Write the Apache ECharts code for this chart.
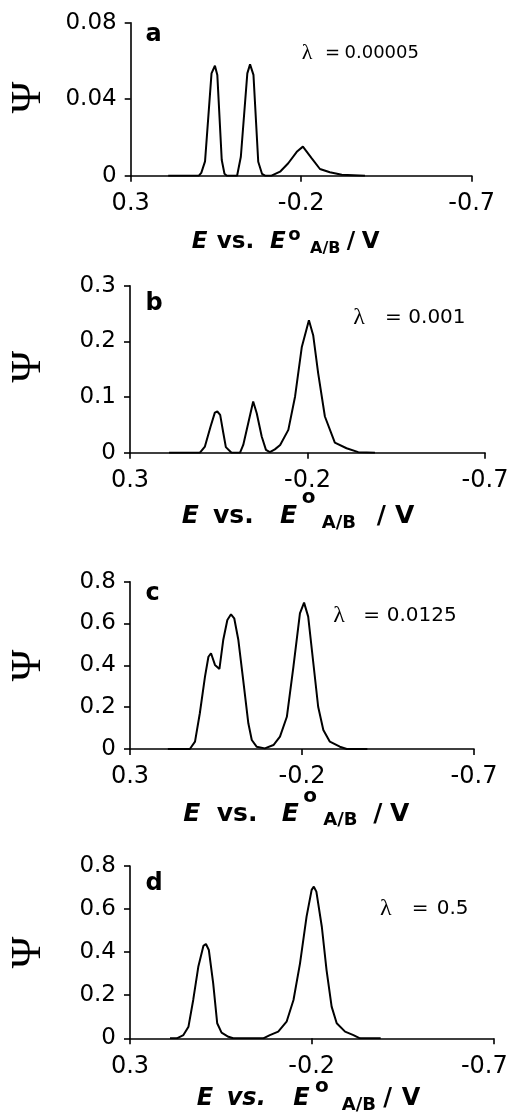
<!DOCTYPE html>
<html>
<head>
<meta charset="utf-8">
<script src="https://cdn.jsdelivr.net/npm/echarts@6/dist/echarts.min.js"></script>
<style>
html, body { margin: 0; padding: 0; background: #fff; }
#chart { width: 508px; height: 1112px; }
</style>
</head>
<body>
<div id="chart"></div>
<script>
var chart = echarts.init(document.getElementById('chart'));

// E vs. E°A/B (V) and Psi, one pair of arrays per panel
var aE   = [0.19, 0.10, 0.093, 0.082, 0.063, 0.053, 0.046, 0.033, 0.025, 0.018, -0.012, -0.023, -0.042, -0.050, -0.060, -0.074, -0.085, -0.094, -0.113, -0.138, -0.162, -0.187, -0.205, -0.231, -0.255, -0.284, -0.319, -0.387];
var aPsi = [0, 0, 0.0015, 0.0075, 0.0535, 0.0575, 0.0527, 0.0082, 0.001, 0, 0, 0.0099, 0.0535, 0.0582, 0.0527, 0.0073, 0.001, 0, 0, 0.0021, 0.0065, 0.0125, 0.0152, 0.0091, 0.0035, 0.0018, 0.0005, 0];

var bE   = [0.19, 0.103, 0.089, 0.073, 0.061, 0.054, 0.046, 0.037, 0.030, 0.014, -0.010, -0.019, -0.033, -0.047, -0.057, -0.071, -0.083, -0.094, -0.108, -0.123, -0.146, -0.165, -0.184, -0.204, -0.216, -0.230, -0.249, -0.277, -0.310, -0.343, -0.39];
var bPsi = [0, 0, 0.011, 0.047, 0.072, 0.074, 0.068, 0.035, 0.010, 0, 0, 0.014, 0.053, 0.092, 0.071, 0.029, 0.005, 0.001, 0.006, 0.014, 0.041, 0.101, 0.190, 0.238, 0.211, 0.143, 0.065, 0.018, 0.008, 0.001, 0];

var cE   = [0.19, 0.126, 0.111, 0.097, 0.082, 0.072, 0.0645, 0.053, 0.040, 0.029, 0.017, 0.0064, -0.003, -0.015, -0.029, -0.044, -0.054, -0.068, -0.092, -0.117, -0.136, -0.156, -0.175, -0.194, -0.206, -0.218, -0.233, -0.247, -0.262, -0.281, -0.31, -0.33, -0.39];
var cPsi = [0, 0, 0.035, 0.171, 0.346, 0.441, 0.458, 0.402, 0.383, 0.521, 0.617, 0.644, 0.625, 0.521, 0.330, 0.123, 0.043, 0.011, 0.003, 0.019, 0.059, 0.154, 0.393, 0.649, 0.700, 0.633, 0.410, 0.202, 0.091, 0.035, 0.011, 0, 0];

var dE   = [0.19, 0.171, 0.153, 0.139, 0.126, 0.112, 0.098, 0.091, 0.083, 0.071, 0.060, 0.048, 0.029, 0.016, -0.067, -0.085, -0.108, -0.131, -0.150, -0.168, -0.186, -0.200, -0.206, -0.213, -0.228, -0.241, -0.255, -0.269, -0.292, -0.315, -0.333, -0.39];
var dPsi = [0, 0, 0.015, 0.054, 0.178, 0.332, 0.429, 0.438, 0.410, 0.255, 0.070, 0.026, 0.007, 0, 0, 0.015, 0.031, 0.077, 0.178, 0.348, 0.565, 0.689, 0.704, 0.681, 0.518, 0.317, 0.147, 0.070, 0.031, 0.015, 0, 0];

var panelNames = ['a', 'b', 'c', 'd'];
var lambdaText = ['0.00005', '0.001', '0.0125', '0.5'];
var yMax  = [0.08, 0.3, 0.8, 0.8];
var yStep = [0.04, 0.1, 0.2, 0.2];
var xMin = -0.7, xMax = 0.3, xStep = 0.5;   // ticks: -0.7, -0.2, 0.3

var allE   = [aE, bE, cE, dE];
var allPsi = [aPsi, bPsi, cPsi, dPsi];

var grids = [
	{ left: 130.7, top: 22.7, width: 341, height: 153 },
	{ left: 130, top: 285.7, width: 355, height: 167 },
	{ left: 130, top: 581.7, width: 344, height: 167.3 },
	{ left: 130, top: 866, width: 363.3, height: 172.3 }
];
var lastLabelShift = [0, 0, 0, 18];   // -0.7 label of panel d sits left of its tick
var letterPos = [[145.5, 35], [145.5, 303.4], [145.5, 593.4], [145.5, 883.4]];
// lambda label: start of λ, "=", number; centre y; font size
var lambdaPos = [[301.7, 325, 344.5, 53.3, 18], [353.3, 385, 408.3, 317.5, 20], [333.3, 363.3, 386.7, 615.8, 20], [380, 411.7, 436.7, 909.2, 20]];
var psiPos = [[29, 97.5], [29, 366.7], [29, 665.5], [29, 952.5]];
// x title: token start x, font sizes [main, sup, sub], baselines [main, sup, sub]
var titleStarts = [
	[191.7, 216.7, 270, 288.3, 310, 346.7, 361.7],
	[181.7, 213, 280, 301.7, 321.7, 376.7, 395],
	[183.3, 216.7, 281.7, 303.3, 323.3, 373.3, 390],
	[196.7, 226.7, 293.3, 315, 341.7, 383.3, 401.7]
];
var titleFont = [[23, 18, 16], [25, 20, 18], [25, 20, 18], [24, 20, 18]];
var titleBase = [[249.7, 241.3, 254.7], [525, 505, 530], [823.3, 803.3, 826.7], [1107.3, 1093.3, 1111.7]];

var font = 'DejaVu Sans';

function pairs(xs, ys) {
	var out = [];
	for (var i = 0; i < xs.length; i++) {
		out.push([xs[i], ys[i]]);
	}
	return out;
}

function xTitle(i) {
	var s = titleStarts[i], f = titleFont[i], b = titleBase[i];
	var fm = f[0], fo = f[1], fs = f[2];
	var ym = b[0] - 0.346 * fm;
	var up = (b[0] - b[1]) - 0.346 * (fm - fo);
	var down = (b[2] - b[0]) + 0.346 * (fm - fs);
	function main(w, italic) {
		var st = { fontSize: fm, fontWeight: 'bold', fontStyle: italic ? 'italic' : 'normal', fontFamily: font, fill: '#000', lineHeight: fm * 1.2 };
		if (w != null) st.width = w;
		return st;
	}
	return {
		type: 'text',
		x: s[0],
		y: ym,
		style: {
			text: '{e1|E}{vs|vs.}{e2|E}{o|o}{ab|A/B}{sl|/}{v|V}',
			align: 'left',
			verticalAlign: 'middle',
			rich: {
				e1: main(s[1] - s[0], true),
				vs: main(s[2] - s[1], i === 3),
				e2: main(s[3] - s[2], true),
				o: { fontSize: fo, fontWeight: 'bold', fontFamily: font, fill: '#000', width: s[4] - s[3], lineHeight: fo * 1.2, padding: [0, 0, 2 * up, 0] },
				ab: { fontSize: fs, fontWeight: 'bold', fontFamily: font, fill: '#000', width: s[5] - s[4], lineHeight: fs * 1.2, padding: [2 * down, 0, 0, 0] },
				sl: main(s[6] - s[5], false),
				v: main(null, false)
			}
		}
	};
}

var grid = [], xAxis = [], yAxis = [], series = [], graphic = [];

for (var i = 0; i < 4; i++) {
	grid.push(Object.assign({ outerBoundsMode: 'none', containLabel: false }, grids[i]));
	xAxis.push({
		type: 'value',
		gridIndex: i,
		min: xMin,
		max: xMax,
		interval: xStep,
		inverse: true,
		axisLine: { show: true, onZero: false, lineStyle: { color: '#000', width: 1.6 } },
		axisTick: { show: true, length: 6, lineStyle: { color: '#000', width: 1.6 } },
		axisLabel: {
			color: '#000', fontFamily: font, fontSize: 24, margin: 16,
			showMinLabel: true, showMaxLabel: true,
			formatter: (function (shift) {
				return function (v) {
					var t = String(Math.round(v * 10) / 10);
					return (shift && v < -0.5) ? '{r|' + t + '}' : t;
				};
			})(lastLabelShift[i]),
			rich: { r: { fontFamily: font, fontSize: 24, color: '#000', padding: [0, lastLabelShift[i], 0, 0] } }
		},
		splitLine: { show: false }
	});
	yAxis.push({
		type: 'value',
		gridIndex: i,
		min: 0,
		max: yMax[i],
		interval: yStep[i],
		axisLine: { show: true, onZero: false, lineStyle: { color: '#000', width: 1.6 } },
		axisTick: { show: true, length: 6, lineStyle: { color: '#000', width: 1.6 } },
		axisLabel: { color: '#000', fontFamily: font, fontSize: 23, margin: 14, showMinLabel: true, showMaxLabel: true },
		splitLine: { show: false }
	});
	series.push({
		type: 'line',
		xAxisIndex: i,
		yAxisIndex: i,
		data: pairs(allE[i], allPsi[i]),
		symbol: 'none',
		smooth: false,
		lineStyle: { color: '#000', width: 2 }
	});

	// panel letter
	graphic.push({
		type: 'text',
		x: letterPos[i][0],
		y: letterPos[i][1],
		style: { text: panelNames[i], fontFamily: font, fontWeight: 'bold', fontSize: 24, fill: '#000', align: 'left', verticalAlign: 'middle' }
	});
	// lambda value
	var lp = lambdaPos[i];
	graphic.push({
		type: 'text',
		x: lp[0],
		y: lp[3],
		style: {
			text: '{l|λ}{q|=}{n|' + lambdaText[i] + '}',
			align: 'left',
			verticalAlign: 'middle',
			rich: {
				l: { fontFamily: 'Liberation Serif', fontSize: lp[4] + 4, fill: '#000', width: lp[1] - lp[0] },
				q: { fontFamily: font, fontSize: lp[4], fill: '#000', width: lp[2] - lp[1] },
				n: { fontFamily: font, fontSize: lp[4], fill: '#000' }
			}
		}
	});
	// y title
	graphic.push({
		type: 'text',
		x: psiPos[i][0],
		y: psiPos[i][1],
		rotation: Math.PI / 2,
		style: { text: 'Ψ', fontFamily: 'Liberation Serif', fontSize: 43, fill: '#000', align: 'center', verticalAlign: 'middle' }
	});
	// x title
	graphic.push(xTitle(i));
}

option = {
	backgroundColor: '#fff',
	animation: false,
	grid: grid,
	xAxis: xAxis,
	yAxis: yAxis,
	series: series,
	graphic: graphic
};

chart.setOption(option);
</script>
</body>
</html>
